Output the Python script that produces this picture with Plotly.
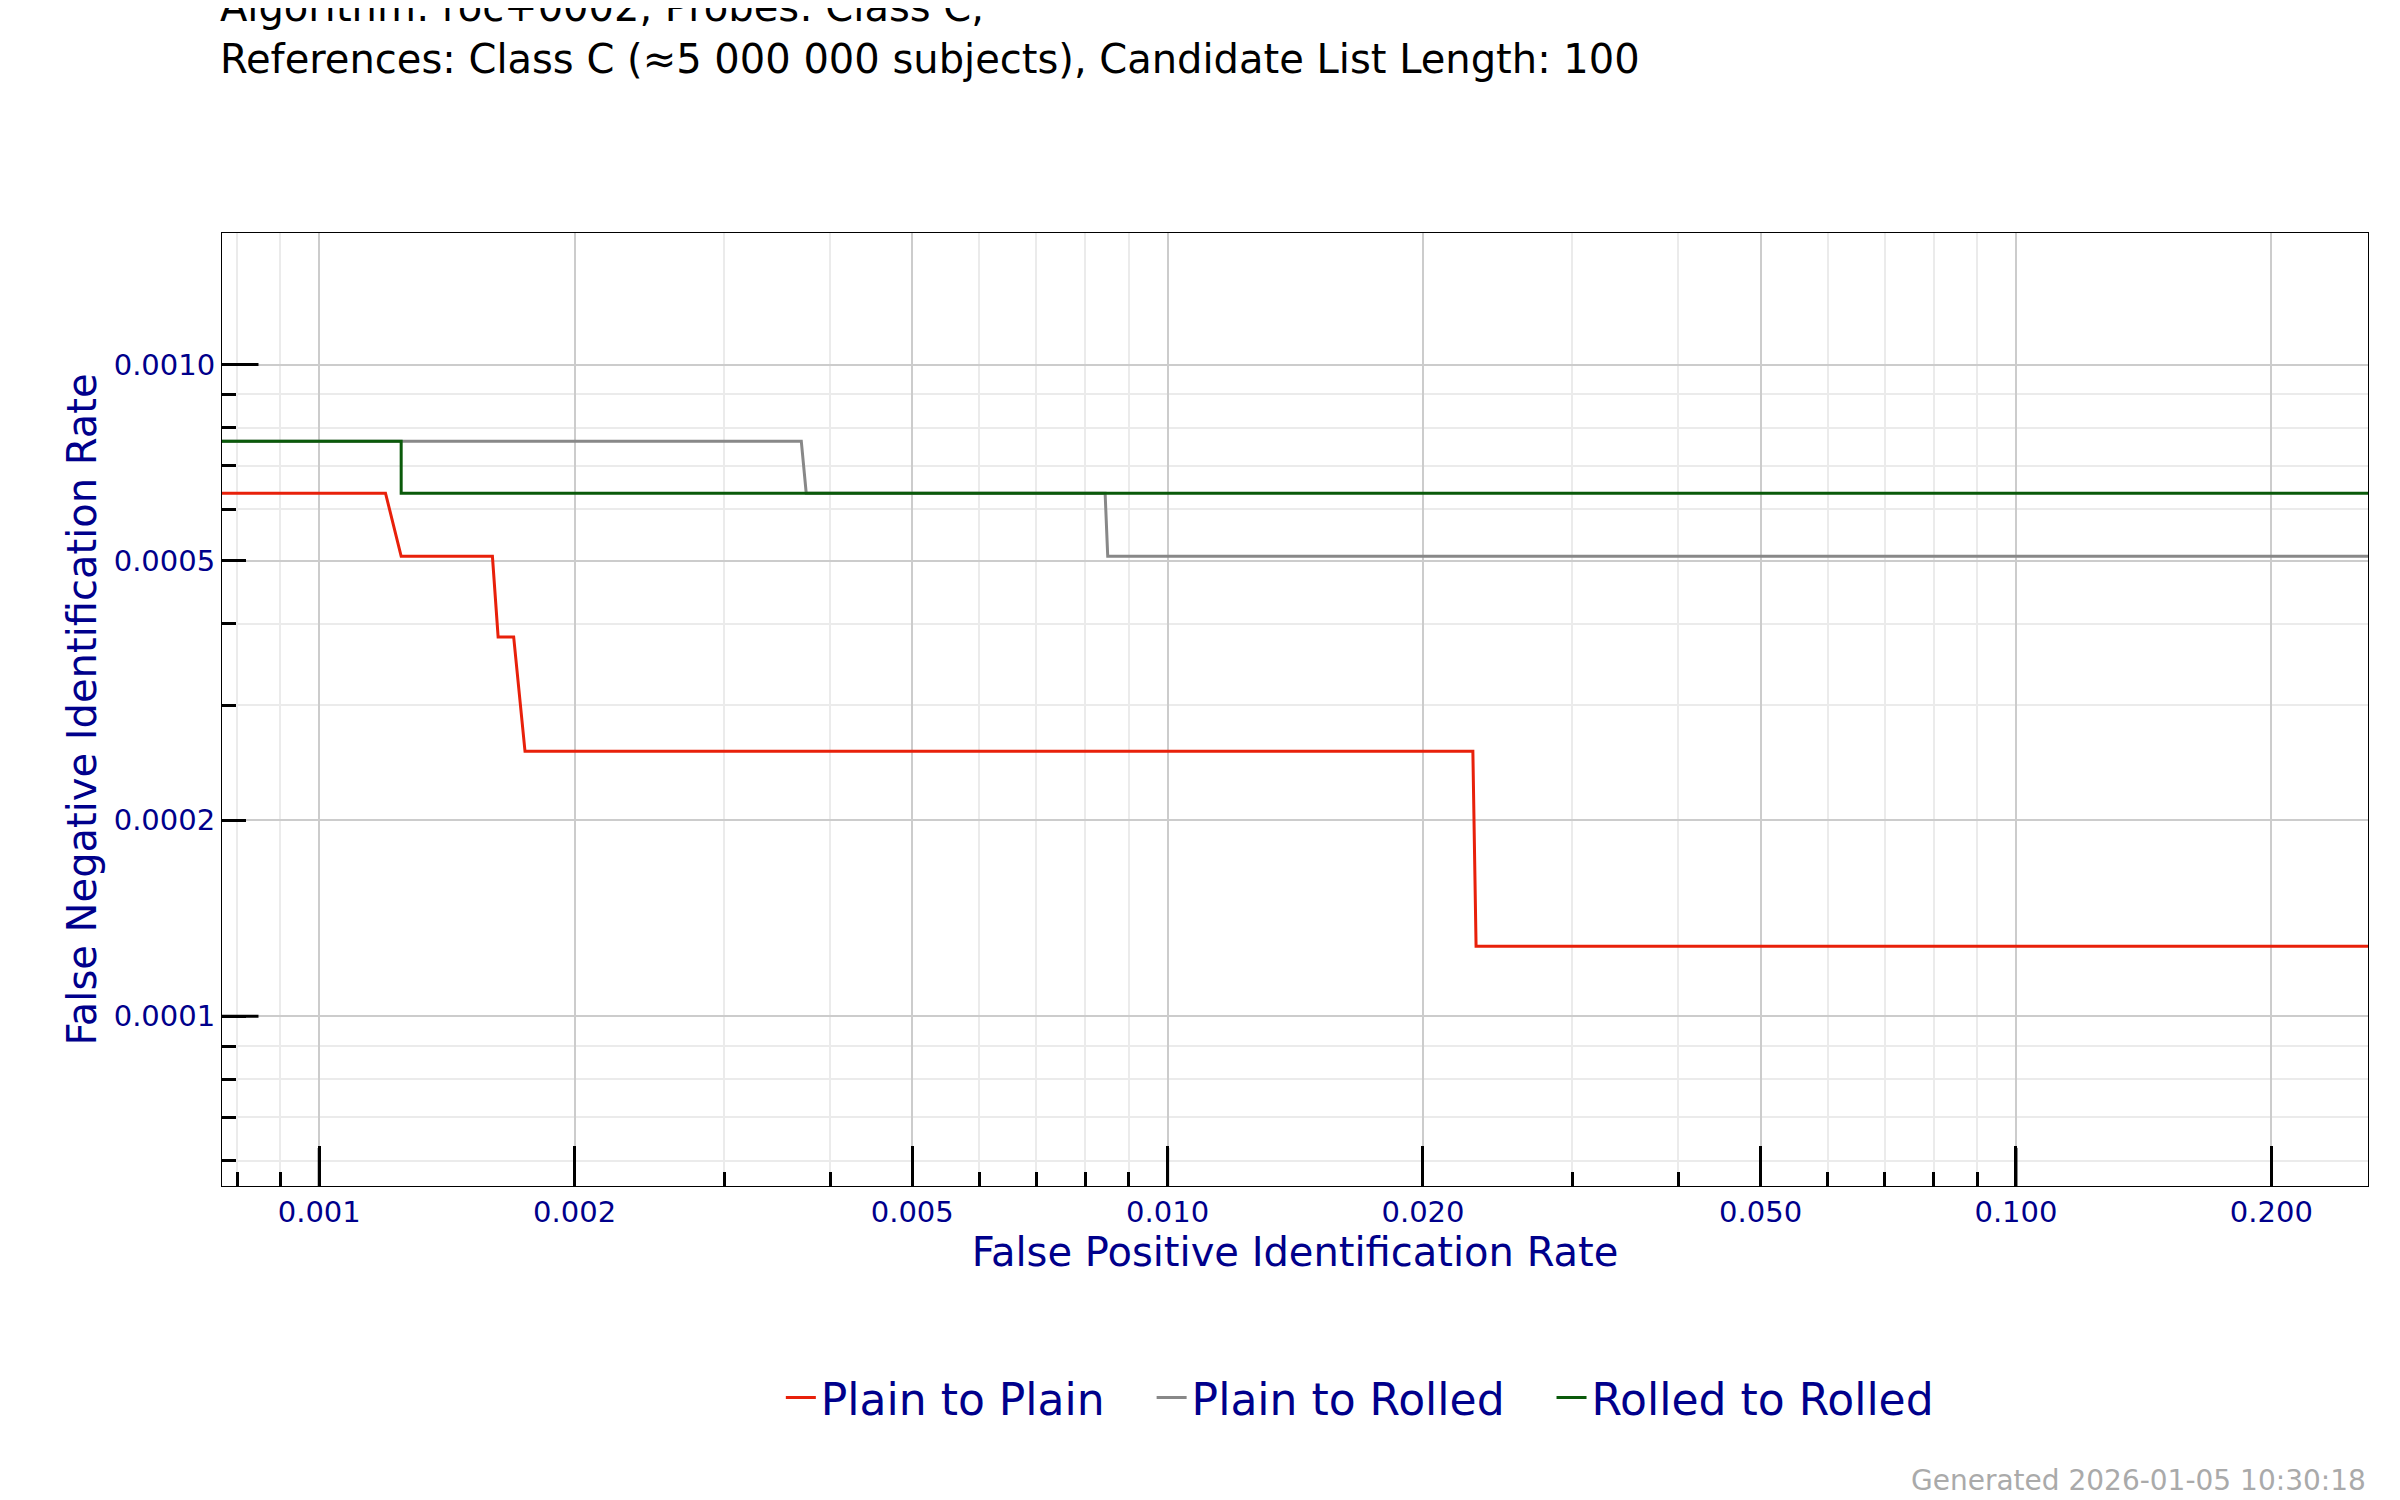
import plotly.graph_objects as go
import numpy as np

series_names = ["Plain to Plain", "Plain to Rolled", "Rolled to Rolled"]
colors = ["#e8200a", "#888888", "#0a5a0a"]
pp_x = [0.00076, 0.001197, 0.001249, 0.0016, 0.001625, 0.001695, 0.001748, 0.0229, 0.0231, 0.26]
pp_y = [0.000635, 0.000635, 0.000508, 0.000508, 0.000382, 0.000382, 0.000255, 0.000255, 0.000128, 0.000128]
pr_x = [0.00076, 0.00370, 0.00375, 0.00844, 0.0085, 0.26]
pr_y = [0.000763, 0.000763, 0.000635, 0.000635, 0.000508, 0.000508]
rr_x = [0.00076, 0.001249, 0.001249, 0.26]
rr_y = [0.000763, 0.000763, 0.000635, 0.000635]

x_ticks = [0.001, 0.002, 0.005, 0.01, 0.02, 0.05, 0.1, 0.2]
x_labels = ["0.001", "0.002", "0.005", "0.010", "0.020", "0.050", "0.100", "0.200"]
y_ticks = [0.0001, 0.0002, 0.0005, 0.001]
y_labels = ["0.0001", "0.0002", "0.0005", "0.0010"]
x_decades = [0.001, 0.01, 0.1]
y_decades = [0.0001, 0.001]

navy = "#00008b"
fig = go.Figure()
for name, c, xs, ys in zip(series_names, colors, [pp_x, pr_x, rr_x], [pp_y, pr_y, rr_y]):
    fig.add_trace(go.Scatter(x=xs, y=ys, mode="lines", name=name + "   ", line=dict(color=c, width=3)))

xr = [np.log10(0.000768), np.log10(0.26)]
yr = [-4.2606, -2.798]
font = "DejaVu Sans"
L = 214
fig.update_layout(
    width=2400, height=1500, plot_bgcolor="white", paper_bgcolor="white",
    margin=dict(l=L, r=40, t=225, b=322),
    font=dict(family=font, color=navy),
    legend=dict(orientation="h", x=0.54, xanchor="center", y=-0.185, yanchor="top", font=dict(size=44, color=navy)),
    xaxis=dict(type="log", range=xr, tickvals=x_ticks, ticktext=x_labels, ticks="inside", ticklen=40, tickwidth=3,
               tickcolor="black", gridcolor="#cccccc", gridwidth=2, showline=True, linecolor="black", mirror=True,
               tickfont=dict(size=29, color=navy), title=dict(text="False Positive Identification Rate", font=dict(size=40, color=navy), standoff=8),
               minor=dict(ticks="inside", ticklen=14, tickwidth=3, tickcolor="black", showgrid=True, gridcolor="#ebebeb", gridwidth=1.5,
                          tickvals=[v*k for v in [0.0001, 0.001, 0.01, 0.1] for k in range(2, 10) if v*k not in x_ticks]),
               zeroline=False),
    yaxis=dict(type="log", range=yr, tickvals=y_ticks, ticktext=y_labels, ticks="inside", ticklen=24, tickwidth=3,
               tickcolor="black", gridcolor="#cccccc", gridwidth=2, showline=True, linecolor="black", mirror=True,
               tickfont=dict(size=29, color=navy), title=dict(text="False Negative Identification Rate", font=dict(size=40, color=navy), standoff=4),
               minor=dict(ticks="inside", ticklen=14, tickwidth=3, tickcolor="black", showgrid=True, gridcolor="#ebebeb", gridwidth=1.5,
                          tickvals=[v*k for v in [0.00001, 0.0001] for k in range(2, 10) if v*k not in y_ticks]),
               zeroline=False),
)
for v in x_decades:
    fig.add_shape(type="line", xref="x", yref="y domain", x0=v, x1=v, y0=0, y1=0.04, line=dict(color="black", width=3))
for v in y_decades:
    fig.add_shape(type="line", xref="x domain", yref="y", x0=0, x1=0.017, y0=v, y1=v, line=dict(color="black", width=3))
fig.add_annotation(text="Detection Error Tradeoff", xref="paper", yref="paper", x=0, y=1.345, xanchor="left", yanchor="middle",
                   showarrow=False, font=dict(size=58, color=navy), xshift=-4)
fig.add_annotation(text="Algorithm: roc+0002, Probes: Class C,<br>References: Class C (≈5 000 000 subjects), Candidate List Length: 100",
                   xref="paper", yref="paper", x=0, y=1.21, xanchor="left", yanchor="middle", align="left",
                   showarrow=False, font=dict(size=40, color="black"), xshift=-4)
fig.add_annotation(text="Generated 2026-01-05 10:30:18", xref="paper", yref="paper", x=1, y=-0.29, xanchor="right", yanchor="top",
                   showarrow=False, font=dict(size=28, color="#aaaaaa"))
fig.write_html("out.html")
